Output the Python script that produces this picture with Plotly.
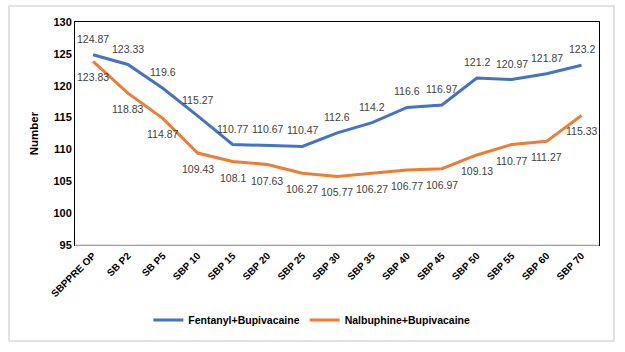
import plotly.graph_objects as go

categories = ["SBPPRE OP", "SB P2", "SB P5", "SBP 10", "SBP 15", "SBP 20", "SBP 25",
              "SBP 30", "SBP 35", "SBP 40", "SBP 45", "SBP 50", "SBP 55", "SBP 60", "SBP 70"]
fentanyl = [124.87, 123.33, 119.6, 115.27, 110.77, 110.67, 110.47, 112.6, 114.2, 116.6,
            116.97, 121.2, 120.97, 121.87, 123.2]
nalbuphine = [123.83, 118.83, 114.87, 109.43, 108.1, 107.63, 106.27, 105.77, 106.27, 106.77,
              106.97, 109.13, 110.77, 111.27, 115.33]
y_ticks = [95, 100, 105, 110, 115, 120, 125, 130]

FONT = "Liberation Sans"
fig = go.Figure()
fig.add_trace(go.Scatter(
    x=categories, y=fentanyl, mode="lines", name="Fentanyl+Bupivacaine",
    line=dict(color="#4472C4", width=3)))
fig.add_trace(go.Scatter(
    x=categories, y=nalbuphine, mode="lines", name="Nalbuphine+Bupivacaine",
    line=dict(color="#ED7D31", width=3)))

annotations = []
for c, v in zip(categories, fentanyl):
    annotations.append(dict(x=c, y=v, xref="x", yref="y", text=str(v), showarrow=False,
                            yshift=16, font=dict(size=10.5, color="#404040", family=FONT)))
for c, v in zip(categories, nalbuphine):
    annotations.append(dict(x=c, y=v, xref="x", yref="y", text=str(v), showarrow=False,
                            yshift=-16, font=dict(size=10.5, color="#404040", family=FONT)))

fig.update_layout(
    width=625, height=352,
    margin=dict(l=75, r=26, t=22, b=107),
    paper_bgcolor="white", plot_bgcolor="white",
    font=dict(family=FONT, color="#000000"),
    showlegend=True,
    annotations=annotations,
    legend=dict(orientation="h", x=0.452, xanchor="center", y=-0.336, yanchor="middle",
                font=dict(size=10.5, family=FONT, color="#000000", weight="bold"),
                itemwidth=30, bgcolor="rgba(0,0,0,0)"),
    xaxis=dict(showgrid=False, showline=True, linecolor="black", linewidth=1, mirror=True,
               tickangle=-45, tickfont=dict(size=10, family=FONT, weight="bold"),
               ticks="", zeroline=False, automargin=False),
    yaxis=dict(range=[95, 130], tickvals=y_ticks, showgrid=False, showline=True,
               linecolor="black", linewidth=1, mirror=True, ticks="",
               tickfont=dict(size=11, family=FONT, weight="bold"),
               title=dict(text="Number", font=dict(size=11.5, family=FONT, weight="bold"), standoff=12),
               zeroline=False, automargin=False),
    shapes=[
        dict(type="rect", xref="paper", yref="paper", x0=-0.126, x1=1.0286, y0=-0.4305, y1=1.0717,
             line=dict(color="#D9D9D9", width=1.5), layer="below"),
        dict(type="line", xref="paper", yref="paper", x0=0, x1=1, y0=0, y1=0,
             line=dict(color="#D9D9D9", width=1.5)),
    ],
)
fig.write_html("out.html")
